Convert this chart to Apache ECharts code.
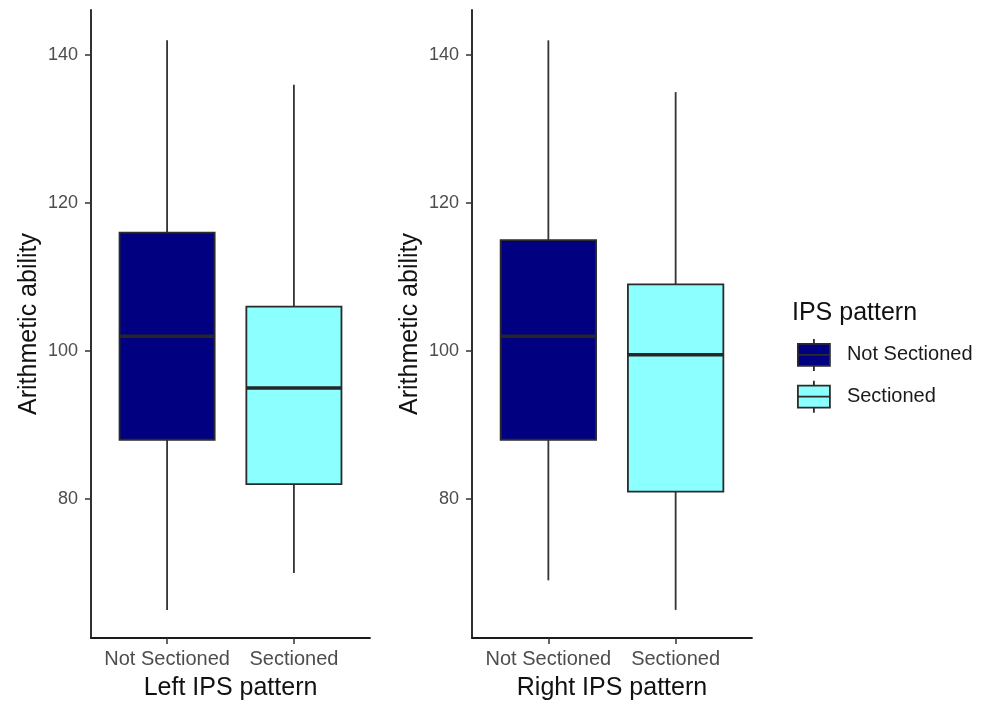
<!DOCTYPE html>
<html>
<head>
<meta charset="utf-8">
<script src="https://cdn.jsdelivr.net/npm/echarts@6/dist/echarts.min.js"></script>
<style>
  html, body { margin: 0; padding: 0; background: #fff; }
  #chart { width: 987px; height: 703px; }
</style>
</head>
<body>
<div id="chart"></div>
<script>
// ---- data ----
const categories = ['Not Sectioned', 'Sectioned'];
const panelTitles = ['Left IPS pattern', 'Right IPS pattern'];
const yAxisTitle = 'Arithmetic ability';
const legendTitle = 'IPS pattern';
const yTicks = [80, 100, 120, 140];
// [min, Q1, median, Q3, max]
const leftNotSectioned = [65, 88, 102, 116, 142];
const leftSectioned = [70, 82, 95, 106, 136];
const rightNotSectioned = [69, 88, 102, 115, 142];
const rightSectioned = [65, 81, 99.5, 109, 135];
const groupColors = ['#000080', '#8cffff'];

const FONT = '"Liberation Sans", Arial, Helvetica, sans-serif';
const chart = echarts.init(document.getElementById('chart'), null, { renderer: 'canvas' });

function renderBox(params, api) {
  const x = api.value(0);
  const lo = api.coord([x, api.value(1)]);
  const q1 = api.coord([x, api.value(2)]);
  const med = api.coord([x, api.value(3)]);
  const q3 = api.coord([x, api.value(4)]);
  const hi = api.coord([x, api.value(5)]);
  const w = api.size([0.75, 0])[0];
  const fill = api.visual('color');
  const lineStyle = { stroke: '#333333', lineWidth: 1.8 };
  return {
    type: 'group',
    children: [
      { type: 'line', shape: { x1: lo[0], y1: lo[1], x2: q1[0], y2: q1[1] }, style: lineStyle },
      { type: 'line', shape: { x1: q3[0], y1: q3[1], x2: hi[0], y2: hi[1] }, style: lineStyle },
      { type: 'rect', shape: { x: q3[0] - w / 2, y: q3[1], width: w, height: q1[1] - q3[1] },
        style: { fill: fill, stroke: '#2b2b2b', lineWidth: 1.8 } },
      { type: 'line', shape: { x1: med[0] - w / 2, y1: med[1], x2: med[0] + w / 2, y2: med[1] },
        style: { stroke: '#262626', lineWidth: 3.4 } }
    ]
  };
}

const grids = [
  { left: 91, top: 10, width: 279, height: 628, outerBoundsMode: 'none', containLabel: false },
  { left: 472, top: 10, width: 280, height: 628, outerBoundsMode: 'none', containLabel: false }
];

const xAxes = [];
const yAxes = [];
grids.forEach(function (g, gi) {
  for (let k = 0; k < 2; k++) {
    xAxes.push({
      type: 'value', gridIndex: gi, min: 0.4, max: 2.6,
      show: k === 0,
      name: panelTitles[gi], nameLocation: 'middle', nameGap: 38,
      nameTextStyle: { fontFamily: FONT, fontSize: 25, color: '#111' },
      axisLine: { show: true, lineStyle: { color: '#1a1a1a', width: 1.8 } },
      axisTick: { show: true, length: 6, customValues: [1, 2], lineStyle: { color: '#333', width: 1.5 } },
      axisLabel: {
        show: true, customValues: [1, 2], margin: 11,
        fontFamily: FONT, fontSize: 20, color: '#4d4d4d',
        formatter: function (v) { return categories[Math.round(v) - 1]; }
      },
      splitLine: { show: false }
    });
  }
  yAxes.push({
    type: 'value', gridIndex: gi, min: 61.2, max: 146.1,
    name: yAxisTitle, nameLocation: 'middle', nameGap: 49, nameRotate: 90,
    nameTextStyle: { fontFamily: FONT, fontSize: 25, color: '#111' },
    axisLine: { show: true, lineStyle: { color: '#1a1a1a', width: 1.8 } },
    axisTick: { show: true, length: 6, customValues: yTicks, lineStyle: { color: '#333', width: 1.5 } },
    axisLabel: { show: true, customValues: yTicks, margin: 13, fontFamily: FONT, fontSize: 18, color: '#4d4d4d' },
    splitLine: { show: false }
  });
});

const panelData = [
  [leftNotSectioned, leftSectioned],
  [rightNotSectioned, rightSectioned]
];

const series = [];
panelData.forEach(function (pd, gi) {
  pd.forEach(function (stats, ci) {
    series.push({
      type: 'custom',
      name: categories[ci],
      xAxisIndex: gi * 2 + ci,
      yAxisIndex: gi,
      itemStyle: { color: groupColors[ci], borderColor: '#333333', borderWidth: 1.5 },
      renderItem: renderBox,
      encode: { x: 0, y: [1, 2, 3, 4, 5] },
      data: [[ci + 1].concat(stats)],
      silent: true
    });
  });
});

const legendIcon = 'path://M16,0L16,5M0,5L32,5L32,27L0,27ZM0,16L32,16M16,27L16,32';

chart.setOption({
  animation: false,
  backgroundColor: '#ffffff',
  title: {
    text: legendTitle, left: 792, top: 301, padding: 0,
    textStyle: { fontFamily: FONT, fontSize: 25, fontWeight: 'normal', color: '#111' }
  },
  legend: {
    orient: 'vertical', left: 797, top: 338, padding: 0,
    itemWidth: 32, itemHeight: 32, itemGap: 8,
    data: categories.map(function (c) { return { name: c, icon: legendIcon }; }),
    itemStyle: { borderColor: '#2b2b2b', borderWidth: 1.8 },
    textStyle: { fontFamily: FONT, fontSize: 20, color: '#1a1a1a', padding: [2, 0, 0, 12] },
    selectedMode: false
  },
  grid: grids,
  xAxis: xAxes,
  yAxis: yAxes,
  series: series
});
</script>
</body>
</html>
